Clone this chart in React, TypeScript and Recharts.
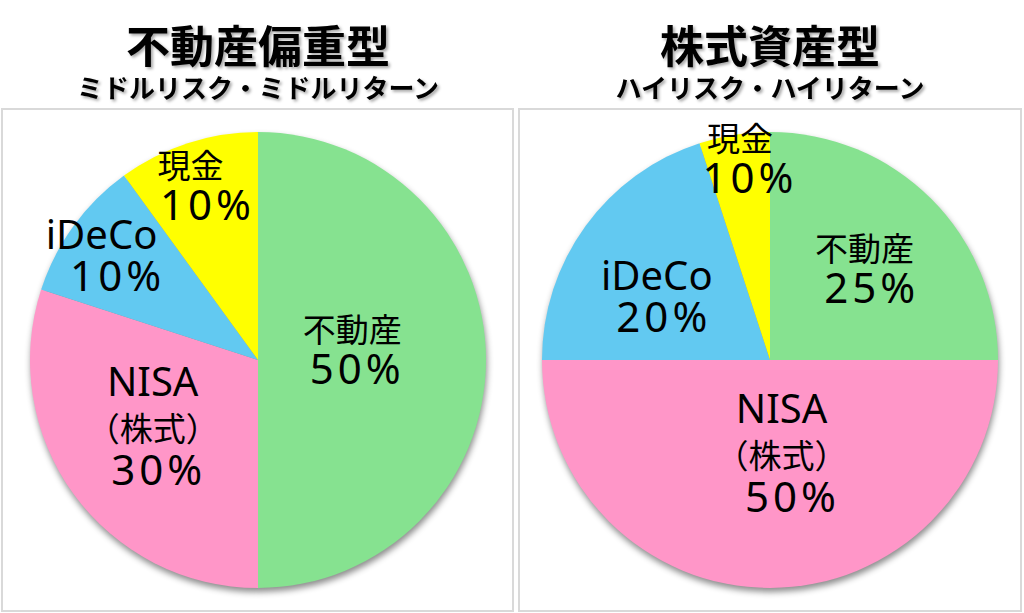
import React from 'react';
import { PieChart, Pie, Cell } from 'recharts';

// ---- data ----
const categories = ['不動産', 'NISA（株式）', 'iDeCo', '現金'];
const nameLines = [['不動産'], ['NISA', '（株式）'], ['iDeCo'], ['現金']];
const leftValues = [50, 30, 10, 10];
const rightValues = [25, 50, 20, 5];
const leftPctLabels = ['50%', '30%', '10%', '10%'];
const rightPctLabels = ['25%', '50%', '20%', '10%'];
const colors = ['#86E290', '#FF96C8', '#62C9F1', '#FFFF00'];
const titles = ['不動産偏重型', '株式資産型'];
const subtitles = ['ミドルリスク・ミドルリターン', 'ハイリスク・ハイリターン'];

const leftData = categories.map((name, i) => ({ name, value: leftValues[i] }));
const rightData = categories.map((name, i) => ({ name, value: rightValues[i] }));

// ---- layout ----
const FONT = "'Noto Sans', 'Noto Sans CJK JP', sans-serif";
const JP_FONT = "'Noto Sans CJK JP', sans-serif";
const W = 1024;
const H = 613;
const R = 228;
const CY = 360;
const LEFT_CX = 258;
const RIGHT_CX = 770;

type LabelLayout = { rf: number; dx: number; dy: number; pctDx: number };

const leftLabelLayout: LabelLayout[] = [
  { rf: 0.42, dx: 0, dy: -12, pctDx: 3 },
  { rf: 0.56, dx: 0, dy: -9, pctDx: 4 },
  { rf: 0.81, dx: 0, dy: 4, pctDx: 14 },
  { rf: 0.81, dx: -3, dy: 0, pctDx: 15 },
];
const rightLabelLayout: LabelLayout[] = [
  { rf: 0.59, dx: 2, dy: 2, pctDx: 5 },
  { rf: 0.41, dx: 16, dy: 0, pctDx: 9 },
  { rf: 0.6, dx: 0, dy: 16, pctDx: 5 },
  { rf: 0.9, dx: 6, dy: 0, pctDx: 8 },
];

const PCT_SPACING = 4;

function makeLabel(pcts: string[], layout: LabelLayout[]) {
  return (props: any) => {
    const { cx, cy, midAngle, outerRadius, index } = props;
    const l = layout[index];
    const r = outerRadius * l.rf;
    const rad = Math.PI / 180;
    const bx = cx + r * Math.cos(-midAngle * rad) + l.dx;
    const by = cy + r * Math.sin(-midAngle * rad) + l.dy;
    const lines = [...nameLines[index], pcts[index]];
    const offsets = lines.length === 3 ? [-30, 15, 59] : [-6, 36];
    return (
      <g key={`lbl-${index}`}>
        {lines.map((t, i) => {
          const isPct = i === lines.length - 1;
          const cjk = /[^\x00-\x7F]/.test(t);
          const fs = isPct ? 42 : cjk ? 33 : 40;
          const x = bx + (isPct ? l.pctDx / 2 + PCT_SPACING / 2 : -l.pctDx / 2);
          return (
            <text
              key={i}
              x={x}
              y={by + offsets[i]}
              textAnchor="middle"
              fontSize={fs}
              fill="#000"
              fontFamily={FONT}
              letterSpacing={isPct ? PCT_SPACING : 0}
            >
              {t}
            </text>
          );
        })}
      </g>
    );
  };
}

const abs: React.CSSProperties = { position: 'absolute', left: 0, top: 0 };

export default function App() {
  return (
    <div style={{ position: 'absolute', left: 0, top: 0, width: W, height: H, background: '#fff', overflow: 'hidden' }}>
      {/* frames and titles */}
      <svg width={W} height={H} style={abs}>
        <rect x={2} y={109} width={511} height={502} fill="#fff" stroke="#D9D9D9" strokeWidth={2} />
        <rect x={519} y={109} width={502} height={502} fill="#fff" stroke="#D9D9D9" strokeWidth={2} />
        {[LEFT_CX, RIGHT_CX].map((x, i) => (
          <g key={i} style={{ filter: 'drop-shadow(2px 2px 1.5px rgba(0,0,0,0.35))' }}>
            <text x={x} y={63} textAnchor="middle" fontSize={44} fontWeight={700} fontFamily={JP_FONT} fill="#000">
              {titles[i]}
            </text>
            <text x={x} y={98} textAnchor="middle" fontSize={26} fontWeight={700} fontFamily={JP_FONT} fill="#000">
              {subtitles[i]}
            </text>
          </g>
        ))}
      </svg>

      {/* coloured pies with drop shadow */}
      <div style={{ ...abs, width: W, height: H, filter: 'drop-shadow(1px 4px 3px rgba(0,0,0,0.45))' }}>
        <PieChart width={W} height={H} margin={{ top: 0, right: 0, bottom: 0, left: 0 }}>
          <Pie
            data={leftData}
            dataKey="value"
            nameKey="name"
            cx={LEFT_CX}
            cy={CY}
            outerRadius={R}
            startAngle={90}
            endAngle={-270}
            stroke="none"
            isAnimationActive={false}
            label={false}
            labelLine={false}
          >
            {leftData.map((d, i) => (
              <Cell key={d.name} fill={colors[i]} stroke="none" />
            ))}
          </Pie>
          <Pie
            data={rightData}
            dataKey="value"
            nameKey="name"
            cx={RIGHT_CX}
            cy={CY}
            outerRadius={R}
            startAngle={90}
            endAngle={-270}
            stroke="none"
            isAnimationActive={false}
            label={false}
            labelLine={false}
          >
            {rightData.map((d, i) => (
              <Cell key={d.name} fill={colors[i]} stroke="none" />
            ))}
          </Pie>
        </PieChart>
      </div>

      {/* labels layer */}
      <div style={{ ...abs, width: W, height: H }}>
        <PieChart width={W} height={H} margin={{ top: 0, right: 0, bottom: 0, left: 0 }}>
          <Pie
            data={leftData}
            dataKey="value"
            nameKey="name"
            cx={LEFT_CX}
            cy={CY}
            outerRadius={R}
            startAngle={90}
            endAngle={-270}
            fill="transparent"
            stroke="none"
            isAnimationActive={false}
            label={makeLabel(leftPctLabels, leftLabelLayout)}
            labelLine={false}
          />
          <Pie
            data={rightData}
            dataKey="value"
            nameKey="name"
            cx={RIGHT_CX}
            cy={CY}
            outerRadius={R}
            startAngle={90}
            endAngle={-270}
            fill="transparent"
            stroke="none"
            isAnimationActive={false}
            label={makeLabel(rightPctLabels, rightLabelLayout)}
            labelLine={false}
          />
        </PieChart>
      </div>
    </div>
  );
}
